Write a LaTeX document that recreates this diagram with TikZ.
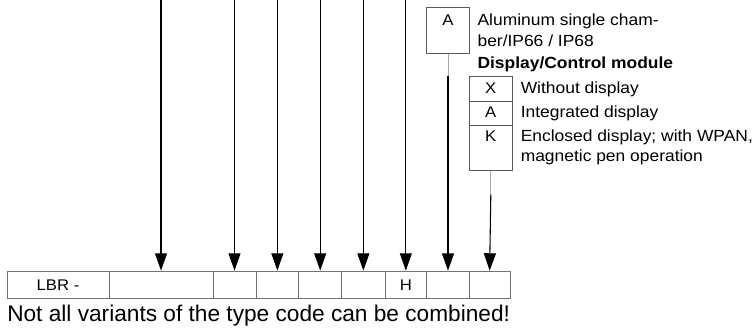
\documentclass[tikz,border=0pt]{standalone}
\usepackage{fontspec}
\setmainfont{Liberation Sans}
\newfontfamily\uf[FakeStretch=1.08]{Liberation Sans}
\usetikzlibrary{arrows.meta,fit}
\begin{document}
\begin{tikzpicture}[x=0.75pt,y=-0.75pt,
  cellbox/.style={draw=black!55,line width=0.6pt,inner sep=0pt},
  selbox/.style={draw=black!65,line width=0.6pt,inner sep=0pt},
  code/.style={anchor=base,inner sep=0pt,font=\uf\fontsize{11.6}{13}\selectfont},
  desc/.style={anchor=base west,inner sep=0pt,font=\uf\fontsize{12.1}{14}\selectfont},
  pointer/.style={line width=0.8pt,-{Triangle[length=13pt,width=9pt]}},
  faint/.style={line width=0.75pt,draw=black!35}
]
\useasboundingbox (0,0) rectangle (752,332);
% type code row
\node[cellbox,fit={(7,271)(109,298.7)}] (c0) {};
\node[cellbox,fit={(109,271)(213,298.7)}] (c1) {};
\node[cellbox,fit={(213,271)(256,298.7)}] (c2) {};
\node[cellbox,fit={(256,271)(298.7,298.7)}] (c3) {};
\node[cellbox,fit={(298.7,271)(341.7,298.7)}] (c4) {};
\node[cellbox,fit={(341.7,271)(385,298.7)}] (c5) {};
\node[cellbox,fit={(385,271)(426.7,298.7)}] (c6) {};
\node[cellbox,fit={(426.7,271)(469.3,298.7)}] (c7) {};
\node[cellbox,fit={(469.3,271)(510,298.7)}] (c8) {};
\node[code] (c0l) at (c0.center |- 0,290.5) {LBR -};
\node[code] (c6l) at (c6.center |- 0,290.5) {H};
% top ends of the incoming lines
\foreach \i in {1,...,6} {
  \coordinate (t\i) at (c\i.north |- 0,0);
  \draw[pointer] (t\i) -- (c\i.north);
}
% housing box
\node[selbox,fit={(426.7,7.3)(469.3,53.3)}] (hA) {};
\node[code] (hAl) at (448,25.5) {A};
\node[desc] (hAt1) at (477.3,26) {Aluminum single cham-};
\node[desc] (hAt2) at (477.3,46.5) {ber/IP66 / IP68};
\node[desc,font=\uf\bfseries\fontsize{12.1}{14}\selectfont] (dtitle) at (477.3,68) {Display/Control module};
% display boxes
\node[selbox,fit={(469.3,76.7)(512.3,101)}] (dX) {};
\node[selbox,fit={(469.3,101)(512.3,125.3)}] (dA) {};
\node[selbox,fit={(469.3,125.3)(512.3,170.7)}] (dK) {};
\node[code] (dXl) at (490.8,93.3) {X};
\node[code] (dAl) at (490.8,117) {A};
\node[code] (dKl) at (490.8,141) {K};
\node[desc] (dXt) at (520.5,93.3) {Without display};
\node[desc] (dAt) at (520.5,117) {Integrated display};
\node[desc] (dKt1) at (520.5,141) {Enclosed display; with WPAN,};
\node[desc] (dKt2) at (520.5,161.5) {magnetic pen operation};
% connectors from the option boxes
\coordinate (h7) at (hA.south |- dX.north);
\draw[faint] (hA.south) -- (h7);
\draw[pointer] (h7) -- (c7.north);
\coordinate (k8) at ([yshift=-23.6*0.75pt]dK.south);
\draw[faint] (dK.south) -- (k8);
\draw[pointer] (k8) -- (c8.north);
% note
\node[anchor=base west,inner sep=0pt,font=\fontsize{17}{20}\selectfont] (note) at (7,321) {Not all variants of the type code can be combined!};
\end{tikzpicture}
\end{document}
